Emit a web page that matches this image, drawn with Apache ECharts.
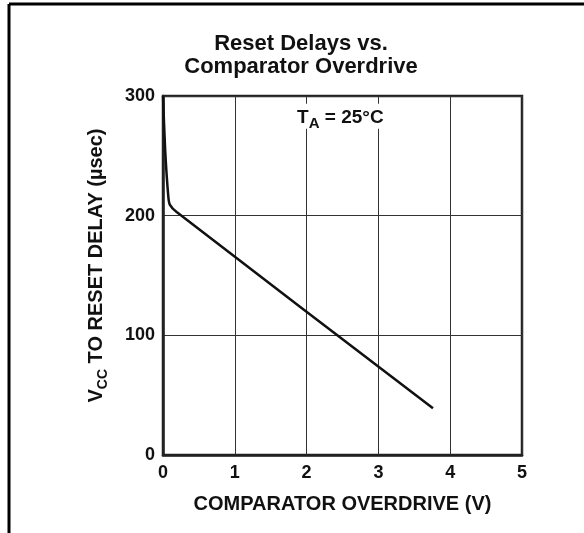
<!DOCTYPE html>
<html>
<head>
<meta charset="utf-8">
<script src="https://cdn.jsdelivr.net/npm/echarts@6/dist/echarts.min.js"></script>
<style>
  html, body { margin: 0; padding: 0; background: #fff; }
  #chart { width: 584px; height: 533px; }
</style>
</head>
<body>
<div id="chart"></div>
<script>
// curve: overdrive (V) vs delay (usec)
var overdrive = [0, 0.03, 0.074, 0.097, 0.19, 3.76];
var delay = [300, 255, 216, 209, 203, 39];
var xTicks = [0, 1, 2, 3, 4, 5];
var yTicks = [0, 100, 200, 300];

var font = '"Liberation Sans", Arial, Helvetica, sans-serif';
var chart = echarts.init(document.getElementById('chart'));

var points = [];
for (var i = 0; i < overdrive.length; i++) {
    points.push([overdrive[i], delay[i]]);
}

chart.setOption({
    animation: false,
    backgroundColor: '#fff',
    title: {
        text: 'Reset Delays vs.\nComparator Overdrive',
        left: 296,
        textAlign: 'center',
        top: 27,
        textStyle: {
            fontFamily: font,
            fontWeight: 'bold',
            fontSize: 22,
            lineHeight: 23,
            color: '#111'
        }
    },
    grid: {
        left: 163,
        right: 62,
        top: 96,
        bottom: 78,
        show: true,
        borderColor: '#222',
        borderWidth: 2.5
    },
    xAxis: {
        type: 'value',
        min: xTicks[0],
        max: xTicks[xTicks.length - 1],
        interval: 1,
        name: 'COMPARATOR OVERDRIVE (V)',
        nameLocation: 'middle',
        nameGap: 39,
        nameTextStyle: { fontFamily: font, fontWeight: 'bold', fontSize: 20, color: '#111' },
        axisLine: { show: true, lineStyle: { color: '#222', width: 2.5 } },
        axisTick: { show: false },
        axisLabel: { fontFamily: font, fontWeight: 'bold', fontSize: 18, color: '#111', margin: 9 },
        splitLine: { show: true, lineStyle: { color: '#333', width: 1 } }
    },
    yAxis: {
        type: 'value',
        min: yTicks[0],
        max: yTicks[yTicks.length - 1],
        interval: 100,
        name: '{v|V}{s|CC}{v| TO RESET DELAY (µsec)}',
        nameLocation: 'middle',
        nameGap: 57,
        nameRotate: 90,
        nameTextStyle: {
            padding: [0, 0, 0, 20],
            rich: {
                v: { fontFamily: font, fontWeight: 'bold', fontSize: 20, color: '#111', lineHeight: 22, verticalAlign: 'bottom' },
                s: { fontFamily: font, fontWeight: 'bold', fontSize: 14, color: '#111', lineHeight: 22, verticalAlign: 'bottom', padding: [0, 0, -4, 0] }
            }
        },
        axisLine: { show: true, lineStyle: { color: '#222', width: 2.5 } },
        axisTick: { show: false },
        axisLabel: { fontFamily: font, fontWeight: 'bold', fontSize: 18, color: '#111', margin: 8 },
        splitLine: { show: true, lineStyle: { color: '#333', width: 1 } }
    },
    series: [{
        type: 'line',
        data: points,
        showSymbol: false,
        smooth: 0.2,
        lineStyle: { color: '#111', width: 2.5 },
        markPoint: {
            symbol: 'rect',
            symbolSize: 0,
            data: [{ coord: [2.47, 283] }],
            label: {
                show: true,
                formatter: '{t|T}{a|A}{t| = 25°C}',
                backgroundColor: '#fff',
                padding: [2, 3],
                rich: {
                    t: { fontFamily: font, fontWeight: 'bold', fontSize: 19, color: '#111', lineHeight: 21, verticalAlign: 'bottom' },
                    a: { fontFamily: font, fontWeight: 'bold', fontSize: 15, color: '#111', lineHeight: 21, verticalAlign: 'bottom', padding: [0, 0, -5, 0] }
                }
            }
        }
    }],
    graphic: [
        { type: 'line', shape: { x1: 9, y1: 4, x2: 584, y2: 4 }, style: { stroke: '#000', lineWidth: 3 } },
        { type: 'line', shape: { x1: 9, y1: 4, x2: 9, y2: 533 }, style: { stroke: '#000', lineWidth: 3 } }
    ]
});

window.addEventListener('resize', function () {
    chart.resize();
});
</script>
</body>
</html>
